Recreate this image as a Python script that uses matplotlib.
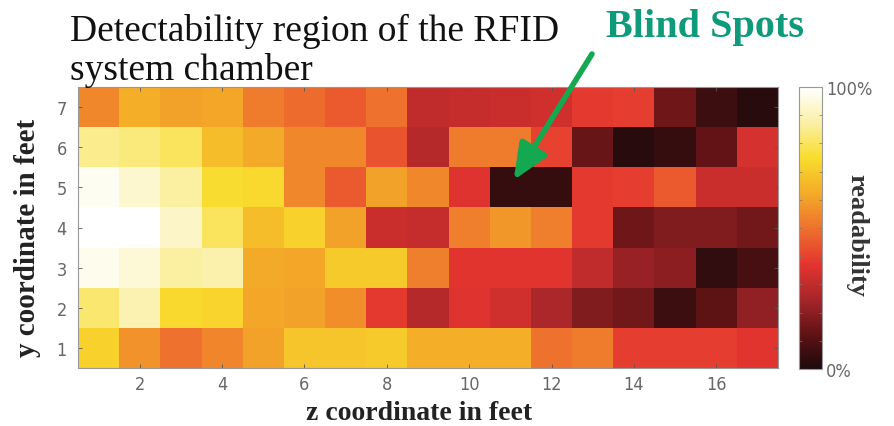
import matplotlib

matplotlib.use("Agg")
import matplotlib.pyplot as plt
import numpy as np
from matplotlib.colors import LinearSegmentedColormap
from matplotlib.ticker import MultipleLocator

# readability (0..1) per cell; rows are y = 1..7, columns are z = 1..17
z_coords = list(range(1, 18))
y_coords = list(range(1, 8))
row_y1 = [0.72, 0.57, 0.50, 0.54, 0.60, 0.69, 0.69, 0.70, 0.63, 0.63, 0.63, 0.50, 0.52, 0.39, 0.39, 0.39, 0.37]
row_y2 = [0.82, 0.89, 0.74, 0.73, 0.61, 0.60, 0.56, 0.38, 0.28, 0.36, 0.33, 0.26, 0.18, 0.16, 0.06, 0.12, 0.21]
row_y3 = [0.97, 0.94, 0.87, 0.88, 0.62, 0.61, 0.70, 0.70, 0.53, 0.37, 0.37, 0.37, 0.30, 0.22, 0.20, 0.04, 0.08]
row_y4 = [1.00, 1.00, 0.92, 0.80, 0.67, 0.72, 0.60, 0.32, 0.31, 0.53, 0.58, 0.53, 0.38, 0.15, 0.18, 0.18, 0.16]
row_y5 = [0.98, 0.93, 0.87, 0.75, 0.74, 0.55, 0.45, 0.60, 0.55, 0.36, 0.05, 0.05, 0.38, 0.39, 0.45, 0.32, 0.32]
row_y6 = [0.85, 0.83, 0.80, 0.67, 0.62, 0.55, 0.55, 0.44, 0.28, 0.52, 0.52, 0.40, 0.14, 0.02, 0.05, 0.13, 0.34]
row_y7 = [0.55, 0.63, 0.60, 0.61, 0.52, 0.49, 0.45, 0.50, 0.30, 0.31, 0.32, 0.33, 0.38, 0.39, 0.15, 0.06, 0.02]
readability = np.array([row_y1, row_y2, row_y3, row_y4, row_y5, row_y6, row_y7])

x_ticks = [2, 4, 6, 8, 10, 12, 14, 16]
cbar_ticks = [0.0, 1.0]
cbar_labels = ["0%", "100%"]

# a softened "hot" map
cmap_stops = [
    (0.00, "#1c0a0c"), (0.12, "#5e1214"), (0.25, "#a8262a"), (0.37, "#e3342f"),
    (0.50, "#ee712d"), (0.62, "#f3aa28"), (0.75, "#f9dc2d"), (0.88, "#fbf0aa"),
    (1.00, "#ffffff"),
]
soft_hot = LinearSegmentedColormap.from_list("soft_hot", cmap_stops)

serif = ["Liberation Serif", "DejaVu Serif"]
tick_grey = "#666666"

fig = plt.figure(figsize=(8.94, 4.27), dpi=100)
ax = fig.add_axes([78 / 894, 1 - 369 / 427, 700 / 894, 281 / 427])
cax = fig.add_axes([799 / 894, 1 - 370 / 427, 23 / 894, 282 / 427])

im = ax.pcolormesh(
    np.arange(0.5, 18.0, 1.0), np.arange(0.5, 8.0, 1.0), readability,
    cmap=soft_hot, vmin=0, vmax=1, shading="flat",
)
ax.set_xlim(0.5, 17.5)
ax.set_ylim(0.5, 7.5)
ax.set_xticks(x_ticks)
ax.set_yticks(y_coords)
ax.tick_params(direction="in", top=True, right=True, length=3, width=0.6,
               colors="#555555", labelcolor=tick_grey, labelsize=13)
ax.tick_params(axis="x", pad=5)
ax.tick_params(axis="y", pad=8)
for lab in ax.get_xticklabels() + ax.get_yticklabels():
    lab.set_family("DejaVu Sans")
    lab.set_stretch("condensed")
for sp in ax.spines.values():
    sp.set_color("#999999")
    sp.set_linewidth(0.8)

ax.set_xlabel("z coordinate in feet", family=serif, fontsize=20,
              fontweight="bold", color="#222222", va="baseline")
ax.xaxis.set_label_coords((419 - 78) / 700, (369 - 420) / 281)
ax.set_ylabel("y coordinate in feet", family=serif, fontsize=21,
              fontweight="bold", color="#222222", va="baseline")
ax.yaxis.set_label_coords((35 - 78) / 700, (369 - 238) / 281)

cb = fig.colorbar(im, cax=cax, ticks=cbar_ticks)
cb.ax.set_yticklabels(cbar_labels)
cb.ax.yaxis.set_minor_locator(MultipleLocator(0.1))
cb.ax.tick_params(which="major", length=0, labelsize=13, labelcolor=tick_grey, pad=3)
cb.ax.tick_params(which="minor", direction="in", left=True, right=True,
                  length=2, width=0.5, color="#777777")
for lab in cb.ax.get_yticklabels():
    lab.set_family("DejaVu Sans")
    lab.set_stretch("condensed")
cb.outline.set_edgecolor("#999999")
cb.outline.set_linewidth(0.8)
fig.text(857 / 894, 1 - 236 / 427, "readability", rotation=-90, family=serif,
         fontsize=19, fontweight="bold", color="#333333",
         ha="center", va="center")

fig.text(70 / 894, 1 - 80 / 427, "Detectability region of the RFID\nsystem chamber",
         family=serif, fontsize=27, color="#111111", ha="left", va="baseline",
         linespacing=1.15)
fig.text(705 / 894, 1 - 37 / 427, "Blind Spots", family=serif, fontsize=29,
         fontweight="bold", color="#0f9a7c", ha="center", va="baseline")

ax.annotate(
    "", xy=(11.08, 5.18), xycoords="data",
    xytext=(592 / 894, 1 - 55 / 427), textcoords="figure fraction",
    arrowprops=dict(arrowstyle="-|>,head_length=2.2,head_width=0.95",
                    color="#14a850", lw=4, shrinkA=0, shrinkB=0),
    annotation_clip=False,
)

fig.savefig("out.png", dpi=100)
